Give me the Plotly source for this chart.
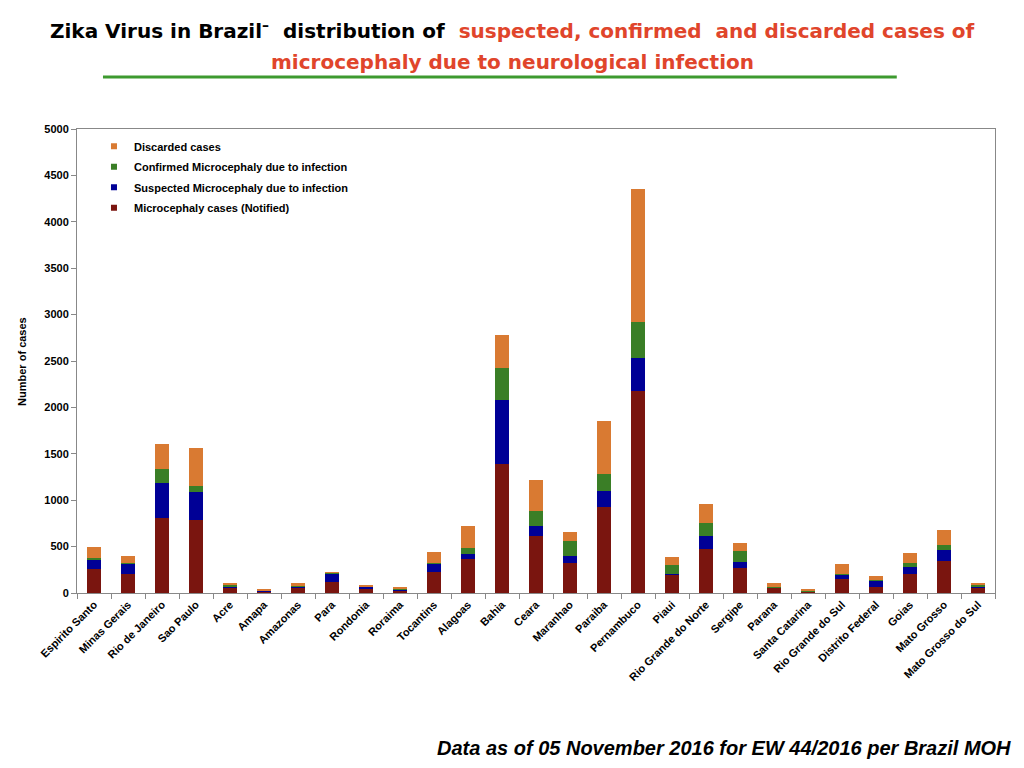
import plotly.graph_objects as go

states = ["Espirito Santo", "Minas Gerais", "Rio de Janeiro", "Sao Paulo", "Acre", "Amapa",
          "Amazonas", "Para", "Rondonia", "Roraima", "Tocantins", "Alagoas", "Bahia", "Ceara",
          "Maranhao", "Paraiba", "Pernambuco", "Piaui", "Rio Grande do Norte", "Sergipe",
          "Parana", "Santa Catarina", "Rio Grande do Sul", "Distrito Federal", "Goias",
          "Mato Grosso", "Mato Grosso do Sul"]

notified = [255, 200, 808, 790, 60, 20, 55, 118, 50, 30, 226, 363, 1387, 611,
            327, 924, 2177, 200, 477, 268, 55, 15, 153, 68, 210, 340, 57]
suspected = [100, 115, 380, 300, 15, 5, 15, 90, 18, 5, 90, 55, 690, 114,
             75, 179, 353, 10, 135, 65, 3, 3, 43, 63, 68, 126, 10]
confirmed = [25, 8, 150, 60, 8, 3, 15, 8, 3, 15, 10, 70, 345, 159,
             162, 183, 394, 95, 140, 125, 2, 5, 5, 5, 40, 49, 14]
discarded = [118, 75, 265, 415, 25, 8, 20, 5, 7, 20, 120, 235, 358, 331,
             90, 568, 1429, 80, 209, 83, 45, 12, 110, 50, 115, 159, 22]

series = [
    ("Microcephaly cases (Notified)", notified, "#7a150f"),
    ("Suspected Microcephaly due to infection", suspected, "#000096"),
    ("Confirmed Microcephaly due to infection", confirmed, "#3a7e26"),
    ("Discarded cases", discarded, "#d97a32"),
]

fig = go.Figure()
for name, vals, col in series:
    fig.add_trace(go.Bar(x=states, y=vals, name=name, width=0.4, showlegend=False,
                         marker=dict(color=col, line=dict(width=0))))

# small square legend keys, top item = top of the stack
for n, (name, vals, col) in enumerate(reversed(series)):
    fig.add_trace(go.Scatter(x=[None], y=[None], mode="markers", name=name,
                             legendgroup="g%d" % n,
                             marker=dict(symbol="square", size=6, color=col)))

axis_font = dict(family="Liberation Sans, Arial", size=11, color="black", weight="bold")

fig.update_layout(
    barmode="stack",
    width=1024, height=768,
    margin=dict(l=69, r=37, t=121, b=183),
    paper_bgcolor="white", plot_bgcolor="white",
    font=dict(family="Liberation Sans, Arial", color="black"),
    showlegend=True,
    legend=dict(x=0.0185, y=0.994, xanchor="left", yanchor="top",
                traceorder="grouped", tracegroupgap=1.5,
                font=dict(family="Liberation Sans, Arial", size=11, color="black", weight="bold"),
                bgcolor="rgba(0,0,0,0)"),
    xaxis=dict(tickangle=-45, tickson="boundaries", ticks="outside", ticklen=5,
               tickcolor="#888888", showline=True, linecolor="#888888", mirror=True,
               tickfont=axis_font, showgrid=False),
    yaxis=dict(range=[0, 5000], dtick=500, ticks="outside", ticklen=5, tickcolor="#888888",
               showline=True, linecolor="#888888", mirror=True, showgrid=False,
               zeroline=False, tickfont=axis_font),
)

title_font = dict(family="DejaVu Sans", size=20, weight="bold")
fig.add_annotation(
    xref="paper", yref="paper", x=0.474, y=1.213, xanchor="center", yanchor="middle",
    showarrow=False,
    text="Zika Virus in Brazil<sup>–</sup>  distribution of  "
         "<span style='color:#e0452b'>suspected, confirmed  and discarded cases of</span>",
    font=dict(color="black", **title_font))
fig.add_annotation(
    xref="paper", yref="paper", x=0.474, y=1.144, xanchor="center", yanchor="middle",
    showarrow=False,
    text="microcephaly due to neurological infection",
    font=dict(color="#e0452b", **title_font))
fig.add_shape(type="line", xref="paper", yref="paper", x0=0.0283, x1=0.893, y0=1.112, y1=1.112,
              line=dict(color="#3d9a2f", width=3))

fig.add_annotation(
    xref="paper", yref="paper", x=-0.06, y=0.5, xanchor="center", yanchor="middle",
    showarrow=False, textangle=-90,
    text="Number of cases", font=axis_font)

fig.add_annotation(
    xref="paper", yref="paper", x=1.0196, y=-0.334, xanchor="right", yanchor="middle",
    showarrow=False,
    text="Data as of 05 November 2016 for EW 44/2016 per Brazil MOH",
    font=dict(family="Liberation Sans, Arial", size=20, color="black",
              weight="bold", style="italic"))

fig.write_html("out.html")
